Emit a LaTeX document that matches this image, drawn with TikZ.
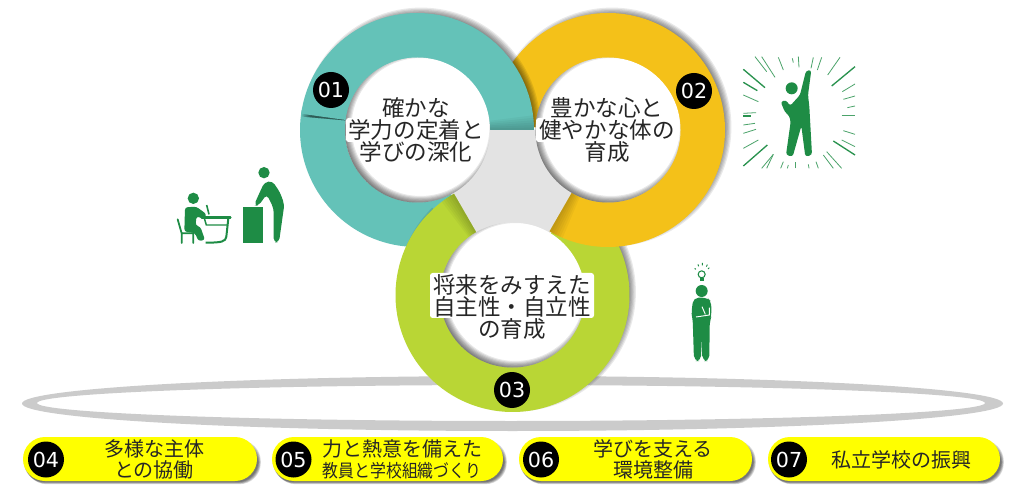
\documentclass[tikz,border=0pt]{standalone}
\usepackage{fontspec}
\newfontfamily\jpfont{Noto Sans CJK JP}
\newfontfamily\numfont{DejaVu Sans}
\newcommand{\tightlines}{\lineskiplimit=-20pt\relax}
\definecolor{teal1}{HTML}{64C2B8}
\definecolor{gold1}{HTML}{F4C119}
\definecolor{lime1}{HTML}{B9D635}
\definecolor{hexg}{HTML}{E3E3E3}
\definecolor{rimg}{HTML}{CBCBCB}
\definecolor{fig}{HTML}{1E8C45}
\definecolor{pillc}{HTML}{FFFF00}
\tikzset{
  badge/.style={circle,fill=black,text=white,minimum size=27pt,inner sep=0pt,font=\numfont\fontsize{15.5}{15.5}\selectfont},
  ringtext/.style={align=center,inner sep=0pt,text=black!85,font=\jpfont\fontsize{16.9}{16.4}\selectfont\tightlines},
  pilltext/.style={align=center,inner sep=0pt,text=black!85,font=\jpfont\fontsize{15}{15.7}\selectfont\tightlines},
  burst/.style={draw=fig!80,line width=.6pt},
  burstb/.style={draw=fig!95,line width=1pt}
}
\newcommand{\annsec}[6]{(#1,#2) ++(#3:#6) arc[start angle=#3,end angle=#4,radius=#6] -- ({#1+#5*cos(#4)},{#2+#5*sin(#4)}) arc[start angle=#4,end angle=#3,radius=#5] -- cycle}
% ring sector with soft outer shadow (thrown up and right)
\newcommand{\ringshadow}[4]{%
  \foreach \k in {0,...,7}{\pgfmathsetmacro{\rr}{111+\k*1.2}
    \fill[black,opacity=.085] \annsec{#1+4}{#2+3}{#3}{#4}{72}{\rr};}}
\newcommand{\ringend}[3]{%
  \foreach \k in {1,...,6}{\pgfmathsetmacro{\ee}{#3+\k*1.2}
    \fill[black,opacity=.035] \annsec{#1}{#2}{#3}{\ee}{72.5}{117};}}
% hole with inner shadow
\newcommand{\hole}[2]{%
  \fill[white] (#1,#2) circle[radius=72.5];
  \begin{scope}
    \clip (#1,#2) circle[radius=72.5];
    \foreach \k in {0,...,7}{\pgfmathsetmacro{\rr}{69+\k*1.1}
      \draw[black,opacity=.09,line width=15pt] (#1+3,#2+3) circle[radius=\rr+10];}
  \end{scope}}
\newcommand{\pill}[4]{%
  \foreach \k in {0,...,4}{
    \fill[black,opacity=.14,rounded corners=16pt] ({#1+2.5-\k*.5},{#4-3.2+\k*.5}) rectangle ({#2+3.8-\k*.6},{#3-3-\k*.6});}
  \fill[pillc,rounded corners=16.5pt] (#1,#4) rectangle (#2,#3);}
\begin{document}
\begin{tikzpicture}[x=0.75pt,y=0.75pt]
\useasboundingbox (0,0) rectangle (1024,493);
\fill[white] (0,0) rectangle (1024,493);
% base ellipse
\fill[rimg,even odd rule] (512.5,89.5) ellipse[x radius=490.5,y radius=27.5]
      (511,90) ellipse[x radius=474,y radius=18];
% centre hexagon
\fill[hexg] (485,363) -- (536,363) -- (574,298) -- (549,258) -- (475,258) -- (452,298) -- cycle;
% ring 1 tail
\fill[teal1] \annsec{417}{363}{170}{298}{72}{117};
% ring 3
\ringshadow{512.5}{198}{135}{418}
\fill[lime1] \annsec{512.5}{198}{120}{418}{72}{117};
\ringend{512.5}{198}{120}
% ring 2
\ringshadow{608}{363}{258}{538}
\fill[gold1] \annsec{608}{363}{240}{538}{72}{117};
\ringend{608}{363}{240}
% ring 1 head
\ringshadow{417}{363}{0}{175}
\fill[teal1] \annsec{417}{363}{0}{172}{72}{117};
\ringend{417}{363}{0}
% holes
\hole{417.5}{363}
\hole{608}{363}
\hole{512.5}{198}
% white halo behind the longest text lines
\fill[white,rounded corners=2pt] (346,351) rectangle (486,375);
\fill[white,rounded corners=2pt] (536,351) rectangle (679,375);
\fill[white,rounded corners=2pt] (430,175) rectangle (594,220);
% ring texts
\node[ringtext] (t1) at (416,363) {確かな\\学力の定着と\\学びの深化};
\node[ringtext] (t2) at (607,363) {豊かな心と\\健やかな体の\\育成};
\node[ringtext] (t3) at (512,186) {将来をみすえた\\自主性・自立性\\の育成};
% ring badges
\node[badge] (b1) at (331,403) {01};
\node[badge] (b2) at (694,402) {02};
\node[badge] (b3) at (512,103) {03};
% bottom pills
\pill{23}{257}{56}{12}
\pill{272}{503}{56}{12}
\pill{519}{752}{56}{12}
\pill{768}{1000}{56}{12}
\node[badge] (b4) at (46,33.5) {04};
\node[badge] (b5) at (293.5,33.5) {05};
\node[badge] (b6) at (541,33.5) {06};
\node[badge] (b7) at (789,33.5) {07};
\node[pilltext] (p4) at (154,33.5) {多様な主体\\との協働};
\node[pilltext] (p5) at (402,33.5) {力と熱意を備えた\\\scalebox{.88}[1]{\fontsize{13.5}{15.7}\selectfont 教員と学校組織づくり}};
\node[pilltext] (p6) at (653,33.5) {学びを支える\\環境整備};
\node[pilltext] (p7) at (901,33.5) {私立学校の振興};
% raised-arm figure
\begin{scope}[shift={(730,453)},x=.25pt,y=-.25pt]
\foreach \a/\b/\c/\d in {75/50/110/95,95/50/135/112,145/52/160/90,187/55/190/68,205/50/207/82,250/52/243/85,275/52/262/90,330/52/293/105,375/132/337/155,375/168/340/178,375/198/352/203,375/283/340/272,375/320/335/300,335/385/290/335,310/385/280/345,265/385/258/365,237/385/235/373,197/385/197/365,172/385/175/375,152/385/160/365,95/385/130/343,130/343/110/385,40/325/85/300,40/280/78/268,40/255/75/250,40/220/78/218,40/165/85/185,335/227/375/227}
  \draw[burst] (\a,\b) -- (\c,\d);
\foreach \a/\b/\c/\d in {375/80/305/138,375/345/310/303,40/378/112/315,40/127/82/152,40/88/105/143,40/228/62/228}
  \draw[burstb] (\a,\b) -- (\c,\d);
\fill[fig] (185,145) circle[radius=18];
\fill[fig,rounded corners=2pt] (228,92) -- (244,90) -- (234,165) -- (238,200) -- (246,345) -- (226,350) -- (214,258) -- (188,350) -- (168,345) -- (182,245) -- (178,228) -- (164,215) -- (152,185) -- (168,180) -- (180,198) -- (210,165) -- cycle;
\end{scope}
% student and teacher
\begin{scope}[shift={(165,338)},x=.25pt,y=-.25pt]
\fill[fig] (85,130) circle[radius=17];
\fill[fig,rounded corners=2pt] (60,157) -- (94,155) -- (125,178) -- (118,192) -- (94,184) -- (92,212) -- (106,215) -- (120,255) -- (100,258) -- (90,234) -- (58,230) -- cycle;
\draw[fig,line width=1.2pt] (125,150) -- (132,178);
\draw[fig,line width=1.3pt,line cap=round] (38,193) -- (50,235) -- (85,235) -- (85,264) (50,235) -- (50,264);
\draw[fig,line width=1.9pt,line cap=round] (110,188) -- (196,188);
\draw[fig,line width=1.1pt] (118,190) -- (124,210) -- (188,210);
\draw[fig,line width=1.5pt] (190,190) -- (184,245) .. controls (182,260) and (170,263) .. (122,263);
\fill[fig] (233,155) rectangle (295,265);
\fill[fig] (297,53) circle[radius=17];
\fill[fig,rounded corners=3pt] (298,82) -- (267,150) -- (280,153) -- (305,118) -- (326,160) -- (326,262) -- (342,262) -- (358,148) -- (345,112) -- (322,78) -- cycle;
\end{scope}
% thinking figure
\begin{scope}[shift={(670,238)},x=.25pt,y=-.25pt]
\fill[fig] (95,108) circle[radius=18];
\fill[fig,rounded corners=4pt] (70,128) -- (112,128) -- (124,140) -- (124,185) -- (119,200) -- (118,318) -- (97,318) -- (95,240) -- (93,318) -- (72,318) -- (68,190) -- (64,175) -- cycle;
\draw[white,line width=.7pt] (78,186) -- (118,180) -- (118,158);
\draw[white,line width=.7pt] (96,155) -- (106,178);
\draw[fig,line width=.8pt] (95,58) circle[radius=10.5];
\fill[fig] (89,68) rectangle (101,78);
\draw[fig,line width=.7pt] (74,40) -- (77,43) (84,28) -- (86,34) (97,24) -- (97,31) (112,29) -- (109,35) (118,38) -- (114,42);
\end{scope}
\end{tikzpicture}
\end{document}
